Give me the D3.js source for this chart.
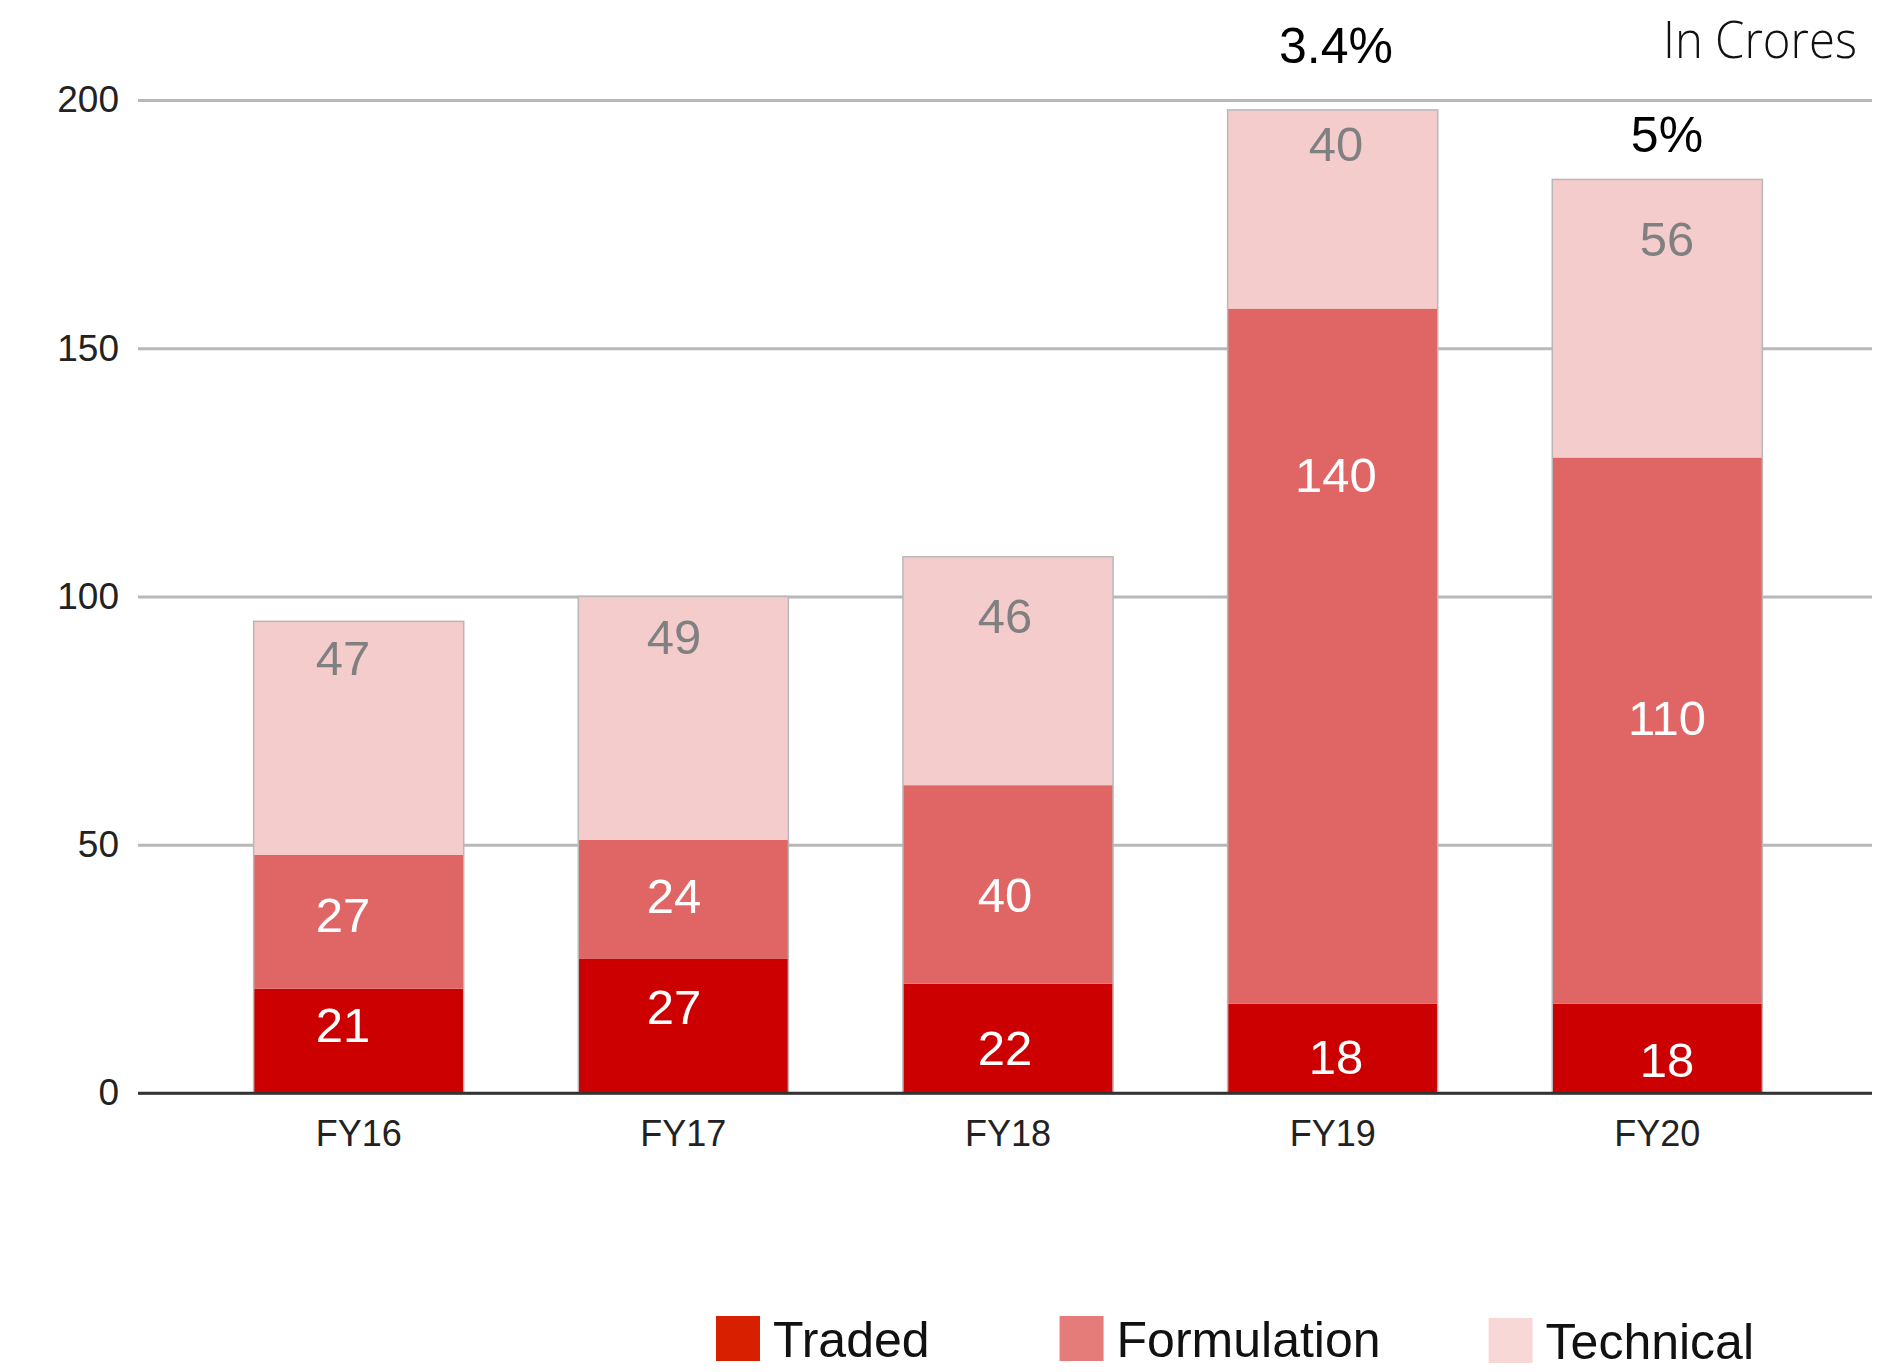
<!DOCTYPE html>
<html>
<head>
<meta charset="utf-8">
<script src="https://cdn.jsdelivr.net/npm/d3@7"></script>
<style>
  html, body { margin: 0; padding: 0; background: #ffffff; }
  svg { display: block; }
</style>
</head>
<body>
<svg id="chart" width="1900" height="1372"></svg>
<script>
// ---- data ----
const categories = ["FY16", "FY17", "FY18", "FY19", "FY20"];
const traded = [21, 27, 22, 18, 18];
const formulation = [27, 24, 40, 140, 110];
const technical = [47, 49, 46, 40, 56];
const seriesNames = ["Traded", "Formulation", "Technical"];
const yTicks = [0, 50, 100, 150, 200];
const growthCategories = ["FY19", "FY20"];
const growthLabels = ["3.4%", "5%"];
const unitLabel = "In Crores";
// where the overlaid labels sit, in data units
const tradedLabelAt = [13.9, 17.5, 9.1, 7.3, 6.8];
const formulationLabelAt = [35.9, 39.8, 40.1, 124.7, 75.7];
const technicalLabelAt = [87.8, 92.0, 96.2, 191.3, 172.1];
const growthLabelAt = [211.1, 193.1];

// ---- styles ----
const barColors = { Traded: "#cc0000", Formulation: "#e06666", Technical: "#f4cccc" };
const legendColors = { Traded: "#d82000", Formulation: "#e67c7a", Technical: "#f8d7d7" };
const labelColors = { Traded: "#ffffff", Formulation: "#ffffff", Technical: "#808080" };
const FONT = "'Liberation Sans', Arial, Helvetica, sans-serif";

const svg = d3.select("#chart");
const plotLeft = 138, plotRight = 1872;

const y = d3.scaleLinear().domain([0, 200]).range([1093, 100]);
const x = d3.scaleBand().domain(categories).range([140, 1876])
  .paddingInner(0.3529).paddingOuter(0.35);
const labelX = d3.scalePoint().domain(categories).range([343, 1667]);

// ---- gridlines + y axis ----
const yAxis = d3.axisLeft(y).tickValues(yTicks).tickSize(-(plotRight - plotLeft)).tickPadding(19);
const gy = svg.append("g").attr("transform", `translate(${plotLeft},0)`).call(yAxis);
gy.select(".domain").remove();
gy.selectAll(".tick line")
  .attr("stroke", d => d === 0 ? "#333333" : "#b8b8b8")
  .attr("stroke-width", d => d === 0 ? 2.5 : 3);
gy.selectAll(".tick text")
  .attr("font-family", FONT).attr("font-size", 37).attr("fill", "#222222");

// ---- stacked bars ----
const rows = categories.map((c, i) => ({ cat: c, Traded: traded[i], Formulation: formulation[i], Technical: technical[i] }));
const stack = d3.stack().keys(seriesNames)(rows);

const barsG = svg.append("g");
barsG.selectAll("g.series").data(stack).join("g")
  .attr("class", "series")
  .attr("fill", d => barColors[d.key])
  .selectAll("rect").data(d => d).join("rect")
  .attr("x", d => x(d.data.cat))
  .attr("width", x.bandwidth())
  .attr("y", d => y(d[1]))
  .attr("height", d => y(d[0]) - y(d[1]));

// outline of each stack
barsG.selectAll("rect.outline").data(rows).join("rect")
  .attr("class", "outline")
  .attr("x", d => x(d.cat))
  .attr("width", x.bandwidth())
  .attr("y", d => y(d.Traded + d.Formulation + d.Technical))
  .attr("height", d => y(0) - y(d.Traded + d.Formulation + d.Technical))
  .attr("fill", "none").attr("stroke", "#b8b8b8").attr("stroke-width", 1.5);

// redraw zero line on top
svg.append("line")
  .attr("x1", plotLeft).attr("x2", plotRight)
  .attr("y1", y(0)).attr("y2", y(0))
  .attr("stroke", "#333333").attr("stroke-width", 2.5);

// ---- x axis labels ----
const xAxis = d3.axisBottom(x).tickSize(0).tickPadding(27);
const gx = svg.append("g").attr("transform", `translate(0,${y(0)})`).call(xAxis);
gx.select(".domain").remove();
gx.selectAll(".tick text")
  .attr("font-family", FONT).attr("font-size", 36).attr("fill", "#222222");

// ---- value labels ----
const labelSets = [
  { key: "Traded", values: traded, at: tradedLabelAt },
  { key: "Formulation", values: formulation, at: formulationLabelAt },
  { key: "Technical", values: technical, at: technicalLabelAt }
];
labelSets.forEach(s => {
  svg.append("g").selectAll("text").data(categories).join("text")
    .attr("x", c => labelX(c))
    .attr("y", (c, i) => y(s.at[i]))
    .attr("dy", "0.36em")
    .attr("text-anchor", "middle")
    .attr("font-family", FONT)
    .attr("font-size", 49)
    .attr("fill", labelColors[s.key])
    .text((c, i) => s.values[i]);
});

// ---- growth labels ----
svg.append("g").selectAll("text").data(growthCategories).join("text")
  .attr("x", c => labelX(c))
  .attr("y", (c, i) => y(growthLabelAt[i]))
  .attr("dy", "0.36em")
  .attr("text-anchor", "middle")
  .attr("font-family", FONT)
  .attr("font-size", 50)
  .attr("fill", "#000000")
  .text((c, i) => growthLabels[i]);

// ---- unit label ----
svg.append("text")
  .attr("x", 1857).attr("y", 58)
  .attr("text-anchor", "end")
  .attr("font-family", "'Open Sans', 'Noto Sans', sans-serif")
  .attr("font-weight", 300)
  .attr("font-size", 52)
  .attr("textLength", 194)
  .attr("lengthAdjust", "spacingAndGlyphs")
  .attr("fill", "#111111")
  .text(unitLabel);

// ---- legend ----
const legend = svg.append("g").attr("transform", "translate(716,1316)");
let cursor = 0;
seriesNames.forEach((name, i) => {
  const item = legend.append("g").attr("transform", `translate(${cursor},${i === 2 ? 2 : 0})`);
  item.append("rect").attr("width", 44).attr("height", 45).attr("fill", legendColors[name]);
  const t = item.append("text")
    .attr("x", 57).attr("y", 41)
    .attr("font-family", FONT).attr("font-size", 50).attr("fill", "#111111")
    .text(name);
  cursor += 57 + t.node().getComputedTextLength() + (i === 0 ? 130 : 108);
});
</script>
</body>
</html>
